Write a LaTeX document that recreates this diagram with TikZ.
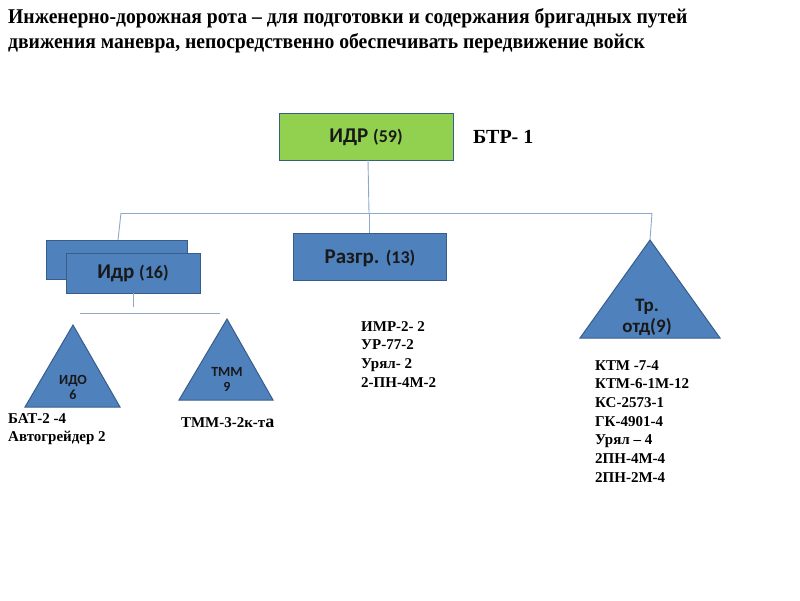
\documentclass[tikz,border=0pt]{standalone}
\usepackage{fontspec}
\setmainfont{Liberation Serif}
\newfontfamily\boxfont{Carlito}
\usetikzlibrary{shapes.geometric}
\definecolor{boxblue}{HTML}{4F81BD}
\definecolor{boxedge}{HTML}{385D8A}
\definecolor{boxgreen}{HTML}{92D050}
\definecolor{linkcol}{HTML}{8EA9C8}
\newcommand{\narrow}[1]{\scalebox{0.935}[1]{#1}}
\tikzset{
  unitbox/.style={draw=boxedge, line width=1pt, fill=boxblue},
  greenbox/.style={draw=boxedge, line width=1pt, fill=boxgreen},
  tri/.style={draw=boxedge, line width=1pt, fill=boxblue},
  link/.style={draw=linkcol, line width=0.9pt},
  boxlabel/.style={font=\boxfont\bfseries\fontsize{21}{24}\selectfont, text=black!90},
  trilabel/.style={font=\boxfont\bfseries\fontsize{14}{15}\selectfont, text=black!90, align=center},
  listtxt/.style={font=\bfseries\fontsize{15}{18.7}\selectfont, anchor=north west, align=left, inner sep=0pt},
  titletxt/.style={font=\bfseries\fontsize{21}{25}\selectfont, anchor=north west, align=left, inner sep=0pt}
}
\begin{document}
\begin{tikzpicture}[x=1pt,y=-1pt]
\useasboundingbox (0,0) rectangle (800,600);
% title
\node[titletxt] (title) at (8,8) {\narrow{Инженерно-дорожная рота -- для подготовки и содержания бригадных путей}\\\narrow{движения маневра, непосредственно обеспечивать передвижение войск}};
% top box
\path[greenbox] (279,113) rectangle (453,160);
\node[boxlabel] (idr) at (366,137) {ИДР {\fontsize{18}{20}\selectfont(59)}};
\coordinate (idrb) at (368,160);
\node[font=\bfseries\fontsize{20}{22}\selectfont, anchor=base west, inner sep=0pt] (btr) at (473,143) {БТР- 1};
% second level
\coordinate (hl) at (121,213);
\coordinate (hr) at (652,213);
\coordinate (hm) at (369,213);
\draw[link] (idrb) -- (hm);
\draw[link] (hl) -- (hr);
% Idr boxes
\path[unitbox] (46,240) rectangle (187,279);
\path[unitbox] (66,253) rectangle (200,293);
\node[boxlabel] (idr16) at (133,273) {Идр {\fontsize{18}{20}\selectfont(16)}};
\draw[link] (hl) -- (118,240);
% Razgr
\path[unitbox] (293,233) rectangle (446,280);
\node[boxlabel] (razgr) at (370,258) {Разгр. {\fontsize{18}{20}\selectfont(13)}};
\draw[link] (hm) -- (369,233);
% Tr triangle
\path[tri] (650,240) -- (720,338) -- (580,338) -- cycle;
\node[trilabel, font=\boxfont\bfseries\fontsize{19}{21}\selectfont] (tr) at (647,317) {Тр.\\отд(9)};
\draw[link] (hr) -- (650,240);
% Idr sub
\coordinate (sl) at (80,313);
\coordinate (sr) at (220,313);
\draw[link] (133,293) -- (133,307);
\draw[link] (sl) -- (sr);
% IDO triangle
\path[tri] (73,325) -- (120,407) -- (25,407) -- cycle;
\node[trilabel] (ido) at (73,387) {ИДО\\6};
% TMM triangle
\path[tri] (227,319) -- (273,400) -- (179,400) -- cycle;
\node[trilabel] (tmm) at (227,379) {ТММ\\9};
% lists
\node[listtxt] (batl) at (8,413) {БАТ-2 -4\\Автогрейдер 2};
\node[listtxt] (tmml) at (181,417) {ТММ-3-2к-т{\fontsize{18}{18}\selectfont а}};
\node[listtxt] (razl) at (361,321) {ИМР-2- 2\\УР-77-2\\Урял- 2\\2-ПН-4М-2};
\node[listtxt] (trl) at (595,360) {КТМ -7-4\\КТМ-6-1М-12\\КС-2573-1\\ГК-4901-4\\Урял -- 4\\2ПН-4М-4\\2ПН-2М-4};
\end{tikzpicture}
\end{document}
